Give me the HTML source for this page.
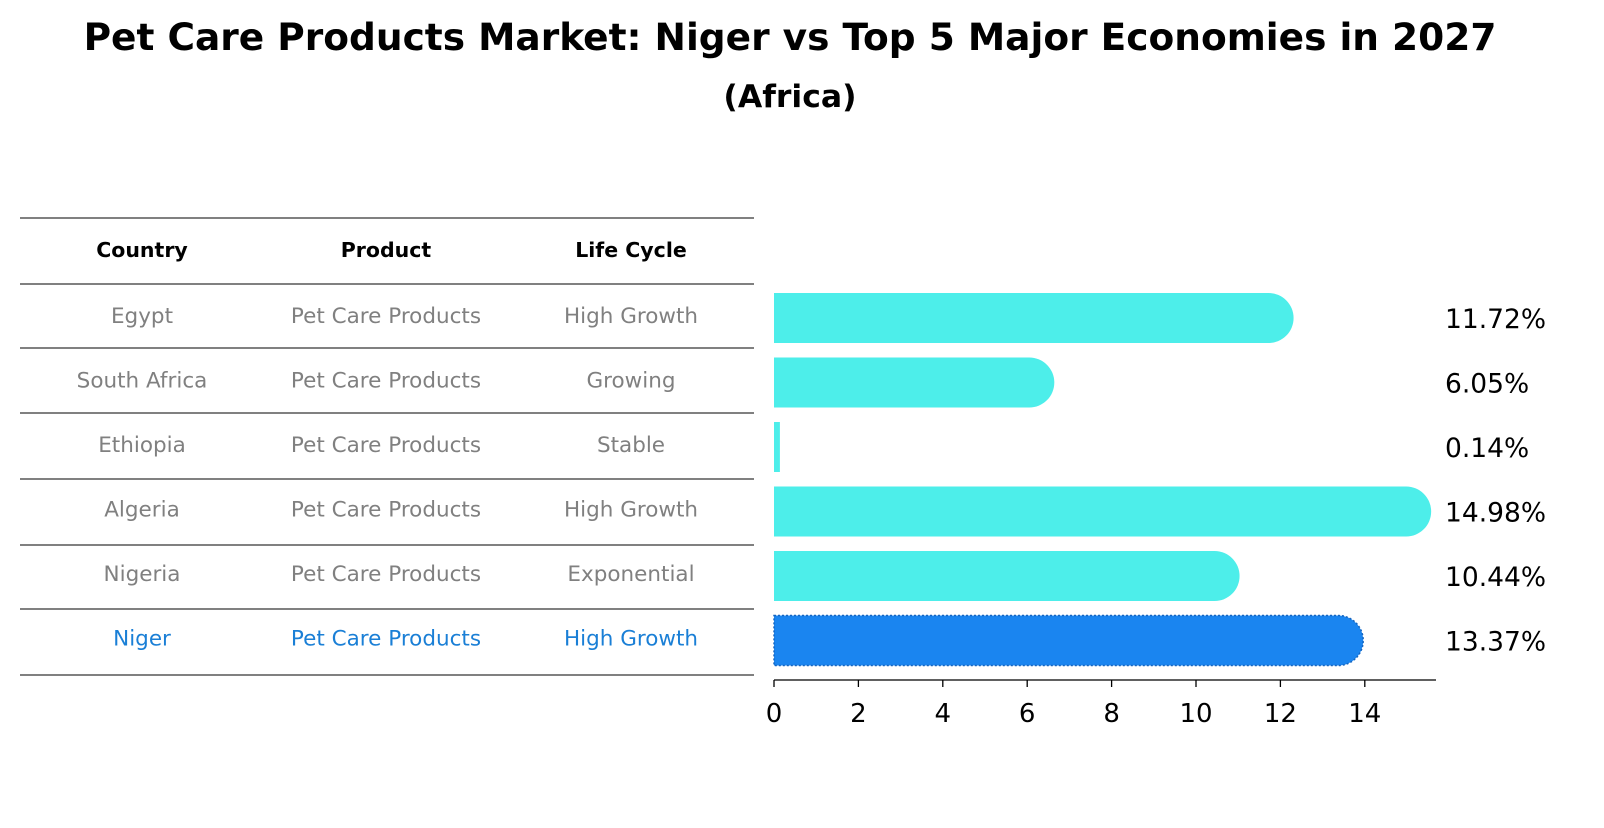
<!DOCTYPE html>
<html><head><meta charset="utf-8"><style>
body{margin:0;background:#fff;width:1604px;height:823px;overflow:hidden;font-family:"Liberation Sans","DejaVu Sans",sans-serif}
</style></head><body>
<svg id="c" width="1604" height="823" xmlns="http://www.w3.org/2000/svg" font-family="DejaVu Sans, Liberation Sans, sans-serif">
<text x="790" y="50" text-anchor="middle" font-size="37.5" font-weight="bold">Pet Care Products Market: Niger vs Top 5 Major Economies in 2027</text>
<text x="790" y="107" text-anchor="middle" font-size="31.5" font-weight="bold">(Africa)</text>
<g id="table"></g>
<g id="bars"></g>
</svg>
<script>
const countries=["Egypt","South Africa","Ethiopia","Algeria","Nigeria","Niger"];
const lifeCycles=["High Growth","Growing","Stable","High Growth","Exponential","High Growth"];
const values=[11.72,6.05,0.14,14.98,10.44,13.37];
const ticks=[0,2,4,6,8,10,12,14];
const NS="http://www.w3.org/2000/svg";
function mk(t,a,p){const e=document.createElementNS(NS,t);for(const k in a)e.setAttribute(k,a[k]);p.appendChild(e);return e;}
const tbl=document.getElementById('table'),bars=document.getElementById('bars');
const x=v=>774+v*42.2;
const rowY=i=>316+i*64.5;
const lines=[218,284,348,413,479,545,609,675];
lines.forEach(y=>{const l=mk('line',{x1:20,x2:754,y1:y,y2:y,stroke:'#000','stroke-width':1},tbl);});
const cx=[142,386,631];
["Country","Product","Life Cycle"].forEach((h,j)=>{const t=mk('text',{x:cx[j],y:257,'text-anchor':'middle','font-size':20.5,'font-weight':'bold'},tbl);t.textContent=h;});
countries.forEach((c,i)=>{const col=i===5?'#1a7fd6':'#808080';[c,"Pet Care Products",lifeCycles[i]].forEach((s,j)=>{const t=mk('text',{x:cx[j],y:rowY(i)+7,'text-anchor':'middle','font-size':21.5,fill:col},tbl);t.textContent=s;});});
values.forEach((v,i)=>{const cy=rowY(i)+2,h=50,r=25,x1=x(v);const fill=i===5?'#1a85f0':'#4deeea';
let d;if(x1-774<r){d=`M774 ${cy-h/2}H${x1}V${cy+h/2}H774Z`;}else{d=`M774 ${cy-h/2}H${x1}A${r} ${r} 0 0 1 ${x1} ${cy+h/2}H774Z`;}
const p=mk('path',{d:d,fill:fill},bars);
if(i===5){p.setAttribute('stroke','#1565c0');p.setAttribute('stroke-dasharray','2 2');p.setAttribute('stroke-width','1.5');}

const t=mk('text',{x:1445,y:cy+10,'font-size':26.5},bars);t.textContent=v.toFixed(2)+'%';});
const ax=mk('line',{x1:774,x2:1436,y1:680,y2:680,stroke:'#000','stroke-width':1.3},bars);
ticks.forEach(tv=>{const l=mk('line',{x1:x(tv),x2:x(tv),y1:680,y2:687,stroke:'#000','stroke-width':1.3},bars);
const t=mk('text',{x:x(tv),y:722,'text-anchor':'middle','font-size':26},bars);t.textContent=tv;});
</script>
</body></html>
